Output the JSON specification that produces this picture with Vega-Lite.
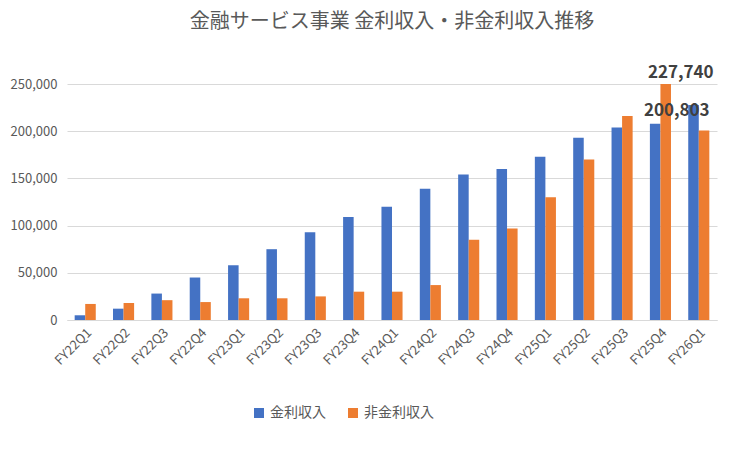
{
  "$schema": "https://vega.github.io/schema/vega-lite/v6.json",
  "width": 650,
  "height": 236,
  "padding": {"left": 10, "top": 12, "right": 14, "bottom": 8},
  "background": "white",
  "config": {
    "font": "Noto Sans CJK JP",
    "view": {"stroke": null},
    "axis": {"labelColor": "#595959", "labelFontSize": 13, "titleColor": "#595959"}
  },
  "title": {"text": "金融サービス事業 金利収入・非金利収入推移", "fontSize": 20, "fontWeight": "normal", "color": "#595959", "offset": 32},
  "data": {
    "values": [
      {"q": "FY22Q1", "s": "金利収入", "v": 5000}, {"q": "FY22Q1", "s": "非金利収入", "v": 17000},
      {"q": "FY22Q2", "s": "金利収入", "v": 12000}, {"q": "FY22Q2", "s": "非金利収入", "v": 18000},
      {"q": "FY22Q3", "s": "金利収入", "v": 28000}, {"q": "FY22Q3", "s": "非金利収入", "v": 21000},
      {"q": "FY22Q4", "s": "金利収入", "v": 45000}, {"q": "FY22Q4", "s": "非金利収入", "v": 19000},
      {"q": "FY23Q1", "s": "金利収入", "v": 58000}, {"q": "FY23Q1", "s": "非金利収入", "v": 23000},
      {"q": "FY23Q2", "s": "金利収入", "v": 75000}, {"q": "FY23Q2", "s": "非金利収入", "v": 23000},
      {"q": "FY23Q3", "s": "金利収入", "v": 93000}, {"q": "FY23Q3", "s": "非金利収入", "v": 25000},
      {"q": "FY23Q4", "s": "金利収入", "v": 109000}, {"q": "FY23Q4", "s": "非金利収入", "v": 30000},
      {"q": "FY24Q1", "s": "金利収入", "v": 120000}, {"q": "FY24Q1", "s": "非金利収入", "v": 30000},
      {"q": "FY24Q2", "s": "金利収入", "v": 139000}, {"q": "FY24Q2", "s": "非金利収入", "v": 37000},
      {"q": "FY24Q3", "s": "金利収入", "v": 154000}, {"q": "FY24Q3", "s": "非金利収入", "v": 85000},
      {"q": "FY24Q4", "s": "金利収入", "v": 160000}, {"q": "FY24Q4", "s": "非金利収入", "v": 97000},
      {"q": "FY25Q1", "s": "金利収入", "v": 173000}, {"q": "FY25Q1", "s": "非金利収入", "v": 130000},
      {"q": "FY25Q2", "s": "金利収入", "v": 193000}, {"q": "FY25Q2", "s": "非金利収入", "v": 170000},
      {"q": "FY25Q3", "s": "金利収入", "v": 204000}, {"q": "FY25Q3", "s": "非金利収入", "v": 216000},
      {"q": "FY25Q4", "s": "金利収入", "v": 208000}, {"q": "FY25Q4", "s": "非金利収入", "v": 250000},
      {"q": "FY26Q1", "s": "金利収入", "v": 227740}, {"q": "FY26Q1", "s": "非金利収入", "v": 200803}
    ]
  },
  "encoding": {
    "x": {"field": "q", "type": "nominal", "title": null, "sort": null,
      "scale": {"paddingInner": 0.45, "paddingOuter": 0.2},
      "axis": {"labelAngle": -45, "ticks": false, "domainColor": "#d9d9d9", "labelPadding": 6}},
    "y": {"field": "v", "type": "quantitative", "title": null,
      "scale": {"domain": [0, 250000]},
      "axis": {"values": [0, 50000, 100000, 150000, 200000, 250000], "format": ",.0f", "ticks": false, "domain": false, "gridColor": "#d9d9d9", "labelPadding": 10}}
  },
  "layer": [
    {
      "mark": {"type": "bar"},
      "encoding": {
        "xOffset": {"field": "s", "type": "nominal"},
        "color": {"field": "s", "type": "nominal", "title": null,
          "scale": {"domain": ["金利収入", "非金利収入"], "range": ["#4472C4", "#ED7D31"]},
          "legend": {"orient": "none", "legendX": 185, "legendY": 322, "direction": "horizontal", "symbolType": "square", "labelFontSize": 14, "labelColor": "#595959", "columnPadding": 20}}
      }
    },
    {
      "transform": [{"filter": "datum.q == 'FY26Q1' && datum.s == '金利収入'"}],
      "mark": {"type": "text", "fontSize": 17, "fontWeight": "bold", "color": "#404040", "dy": -32, "dx": -18},
      "encoding": {"text": {"field": "v", "format": ","}}
    },
    {
      "transform": [{"filter": "datum.q == 'FY26Q1' && datum.s == '非金利収入'"}],
      "mark": {"type": "text", "fontSize": 17, "fontWeight": "bold", "color": "#404040", "dy": -19, "dx": -22},
      "encoding": {"text": {"field": "v", "format": ","}}
    }
  ]
}
